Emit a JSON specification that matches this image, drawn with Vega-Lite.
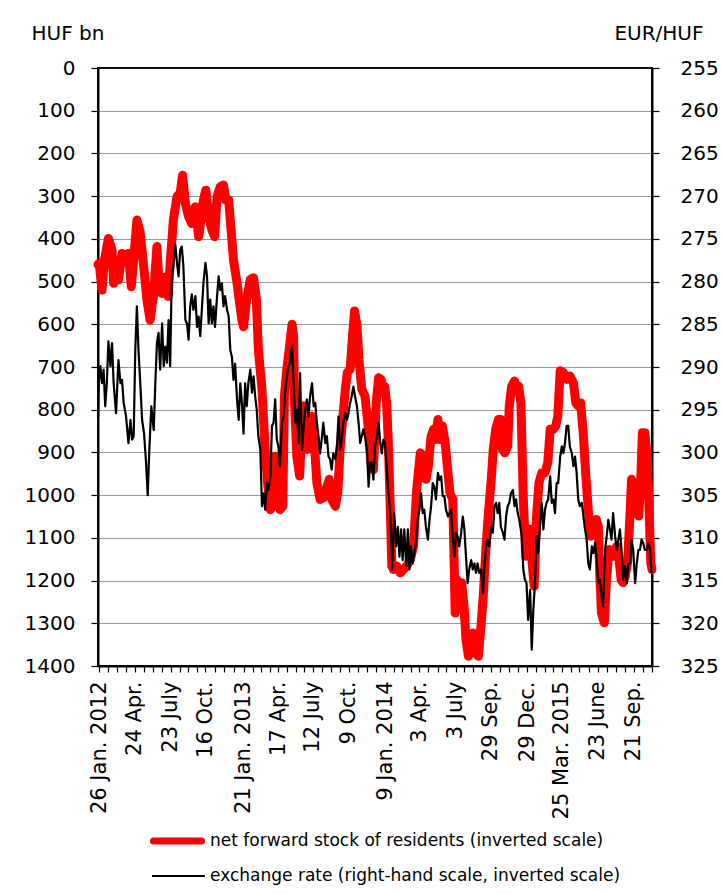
{
"$schema": "https://vega.github.io/schema/vega-lite/v6.json",
"width": 554, "height": 598,
"autosize": {"type": "none"},
"padding": {"left": 98, "top": 68, "right": 69, "bottom": 228},
"background": "white",
"datasets": {
"fwd": [
{"d":"2012-01-23","v":460},{"d":"2012-01-26","v":457},{"d":"2012-02-02","v":520},{"d":"2012-02-08","v":450},{"d":"2012-02-18","v":399},{"d":"2012-02-27","v":426},{"d":"2012-03-02","v":504},{"d":"2012-03-08","v":450},{"d":"2012-03-14","v":496},{"d":"2012-03-23","v":434},{"d":"2012-03-31","v":441},{"d":"2012-04-08","v":434},{"d":"2012-04-15","v":512},{"d":"2012-04-21","v":450},{"d":"2012-04-29","v":356},{"d":"2012-05-07","v":383},{"d":"2012-05-16","v":465},{"d":"2012-05-24","v":543},{"d":"2012-06-01","v":590},{"d":"2012-06-10","v":528},{"d":"2012-06-18","v":418},{"d":"2012-06-24","v":520},{"d":"2012-07-01","v":528},{"d":"2012-07-09","v":489},{"d":"2012-07-16","v":535},{"d":"2012-07-21","v":457},{"d":"2012-07-29","v":356},{"d":"2012-08-07","v":301},{"d":"2012-08-15","v":293},{"d":"2012-08-21","v":251},{"d":"2012-08-28","v":317},{"d":"2012-09-05","v":348},{"d":"2012-09-13","v":364},{"d":"2012-09-22","v":325},{"d":"2012-09-30","v":395},{"d":"2012-10-07","v":348},{"d":"2012-10-12","v":309},{"d":"2012-10-18","v":286},{"d":"2012-10-25","v":348},{"d":"2012-11-02","v":379},{"d":"2012-11-09","v":395},{"d":"2012-11-15","v":301},{"d":"2012-11-23","v":278},{"d":"2012-12-01","v":274},{"d":"2012-12-07","v":309},{"d":"2012-12-14","v":309},{"d":"2012-12-20","v":379},{"d":"2012-12-26","v":450},
{"d":"2013-01-04","v":504},{"d":"2013-01-08","v":535},{"d":"2013-01-16","v":590},{"d":"2013-01-20","v":606},{"d":"2013-01-28","v":541},{"d":"2013-02-06","v":495},{"d":"2013-02-14","v":491},{"d":"2013-02-21","v":541},{"d":"2013-02-26","v":659},{"d":"2013-03-07","v":752},{"d":"2013-03-15","v":893},{"d":"2013-03-21","v":971},{"d":"2013-03-28","v":1034},{"d":"2013-04-03","v":1026},{"d":"2013-04-09","v":909},{"d":"2013-04-15","v":971},{"d":"2013-04-21","v":1034},{"d":"2013-04-28","v":1026},{"d":"2013-05-02","v":768},{"d":"2013-05-08","v":705},{"d":"2013-05-15","v":651},{"d":"2013-05-21","v":600},{"d":"2013-05-25","v":627},{"d":"2013-05-27","v":776},{"d":"2013-06-02","v":909},{"d":"2013-06-09","v":955},{"d":"2013-06-15","v":830},{"d":"2013-06-20","v":791},{"d":"2013-06-27","v":893},{"d":"2013-07-04","v":854},{"d":"2013-07-10","v":815},{"d":"2013-07-15","v":870},{"d":"2013-07-22","v":971},{"d":"2013-07-30","v":1010},{"d":"2013-08-07","v":1006},{"d":"2013-08-14","v":987},{"d":"2013-08-22","v":963},{"d":"2013-08-28","v":1010},{"d":"2013-09-06","v":1026},{"d":"2013-09-12","v":995},{"d":"2013-09-18","v":893},{"d":"2013-09-25","v":815},{"d":"2013-10-01","v":752},{"d":"2013-10-06","v":713},{"d":"2013-10-13","v":705},{"d":"2013-10-19","v":627},{"d":"2013-10-24","v":569},{"d":"2013-10-30","v":604},{"d":"2013-11-04","v":682},{"d":"2013-11-11","v":752},{"d":"2013-11-19","v":768},{"d":"2013-11-26","v":830},{"d":"2013-12-04","v":924},{"d":"2013-12-10","v":940},{"d":"2013-12-17","v":784},{"d":"2013-12-23","v":725},{"d":"2013-12-29","v":729},
{"d":"2014-01-03","v":752},{"d":"2014-01-07","v":745},{"d":"2014-01-12","v":784},{"d":"2014-01-16","v":870},{"d":"2014-01-21","v":1026},{"d":"2014-01-25","v":1166},{"d":"2014-01-29","v":1174},{"d":"2014-02-06","v":1166},{"d":"2014-02-15","v":1182},{"d":"2014-02-23","v":1174},{"d":"2014-03-03","v":1166},{"d":"2014-03-12","v":1151},{"d":"2014-03-20","v":1120},{"d":"2014-03-28","v":987},{"d":"2014-04-06","v":901},{"d":"2014-04-14","v":909},{"d":"2014-04-20","v":963},{"d":"2014-04-26","v":932},{"d":"2014-05-03","v":862},{"d":"2014-05-09","v":846},{"d":"2014-05-13","v":870},{"d":"2014-05-20","v":823},{"d":"2014-05-25","v":870},{"d":"2014-05-31","v":838},{"d":"2014-06-07","v":877},{"d":"2014-06-14","v":948},{"d":"2014-06-19","v":995},{"d":"2014-06-26","v":1010},{"d":"2014-06-30","v":1182},{"d":"2014-07-02","v":1276},{"d":"2014-07-06","v":1198},{"d":"2014-07-12","v":1245},{"d":"2014-07-18","v":1205},{"d":"2014-07-24","v":1260},{"d":"2014-07-29","v":1338},{"d":"2014-08-04","v":1377},{"d":"2014-08-11","v":1338},{"d":"2014-08-16","v":1323},{"d":"2014-08-22","v":1370},{"d":"2014-08-29","v":1377},{"d":"2014-09-05","v":1299},{"d":"2014-09-10","v":1237},{"d":"2014-09-17","v":1120},{"d":"2014-09-23","v":1041},{"d":"2014-09-30","v":963},{"d":"2014-10-05","v":893},{"d":"2014-10-11","v":846},{"d":"2014-10-18","v":823},{"d":"2014-10-23","v":823},{"d":"2014-10-28","v":893},{"d":"2014-11-03","v":901},{"d":"2014-11-10","v":885},{"d":"2014-11-14","v":791},{"d":"2014-11-20","v":745},{"d":"2014-11-27","v":733},{"d":"2014-12-03","v":752},{"d":"2014-12-07","v":745},{"d":"2014-12-13","v":784},{"d":"2014-12-19","v":1010},{"d":"2014-12-25","v":1143},{"d":"2014-12-30","v":1080},
{"d":"2015-01-05","v":1080},{"d":"2015-01-10","v":1159},{"d":"2015-01-15","v":1213},{"d":"2015-01-21","v":1049},{"d":"2015-01-27","v":971},{"d":"2015-02-03","v":948},{"d":"2015-02-11","v":948},{"d":"2015-02-18","v":924},{"d":"2015-02-24","v":846},{"d":"2015-03-04","v":846},{"d":"2015-03-10","v":838},{"d":"2015-03-15","v":815},{"d":"2015-03-21","v":709},{"d":"2015-03-29","v":713},{"d":"2015-04-06","v":729},{"d":"2015-04-14","v":721},{"d":"2015-04-23","v":737},{"d":"2015-04-29","v":784},{"d":"2015-05-05","v":791},{"d":"2015-05-11","v":784},{"d":"2015-05-18","v":862},{"d":"2015-05-24","v":955},{"d":"2015-05-30","v":1034},{"d":"2015-06-06","v":1096},{"d":"2015-06-13","v":1080},{"d":"2015-06-19","v":1057},{"d":"2015-06-24","v":1073},{"d":"2015-06-28","v":1190},{"d":"2015-07-02","v":1276},{"d":"2015-07-09","v":1299},{"d":"2015-07-14","v":1205},{"d":"2015-07-21","v":1127},{"d":"2015-07-27","v":1143},{"d":"2015-08-03","v":1143},{"d":"2015-08-09","v":1120},{"d":"2015-08-15","v":1151},{"d":"2015-08-20","v":1198},{"d":"2015-08-25","v":1205},{"d":"2015-08-30","v":1190},{"d":"2015-09-05","v":1159},{"d":"2015-09-11","v":1049},{"d":"2015-09-15","v":963},{"d":"2015-09-22","v":987},{"d":"2015-09-28","v":1026},{"d":"2015-10-03","v":1049},{"d":"2015-10-08","v":963},{"d":"2015-10-12","v":854},{"d":"2015-10-18","v":854},{"d":"2015-10-24","v":909},{"d":"2015-10-28","v":1010},{"d":"2015-11-02","v":1159},{"d":"2015-11-05","v":1174}
],
"fx": [
{"d":"2012-01-23","r":296},{"d":"2012-01-25","r":291.9},{"d":"2012-01-29","r":289.9},{"d":"2012-02-02","r":291.9},{"d":"2012-02-06","r":290.3},{"d":"2012-02-10","r":294.6},{"d":"2012-02-14","r":291.9},{"d":"2012-02-18","r":287},{"d":"2012-02-23","r":289.9},{"d":"2012-02-27","r":287.2},{"d":"2012-03-02","r":291.9},{"d":"2012-03-08","r":295.4},{"d":"2012-03-14","r":289.2},{"d":"2012-03-19","r":291.9},{"d":"2012-03-23","r":291.5},{"d":"2012-03-27","r":294.2},{"d":"2012-04-02","r":295.8},{"d":"2012-04-08","r":298.9},{"d":"2012-04-13","r":296.2},{"d":"2012-04-17","r":298.5},{"d":"2012-04-21","r":298.1},{"d":"2012-04-25","r":288},{"d":"2012-04-29","r":282.9},{"d":"2012-05-03","r":288},{"d":"2012-05-07","r":291.5},{"d":"2012-05-12","r":296.2},{"d":"2012-05-17","r":297.8},{"d":"2012-05-22","r":301.3},{"d":"2012-05-26","r":305},{"d":"2012-05-30","r":299.7},{"d":"2012-06-04","r":294.6},{"d":"2012-06-10","r":297.4},{"d":"2012-06-14","r":291.9},{"d":"2012-06-18","r":287.2},{"d":"2012-06-22","r":286},{"d":"2012-06-26","r":290.3},{"d":"2012-07-01","r":284.9},{"d":"2012-07-05","r":289.9},{"d":"2012-07-09","r":287.6},{"d":"2012-07-13","r":289.5},{"d":"2012-07-17","r":284.5},{"d":"2012-07-21","r":289.9},{"d":"2012-07-25","r":279.4},{"d":"2012-07-29","r":278.2},{"d":"2012-08-03","r":275.7},{"d":"2012-08-07","r":277.8},{"d":"2012-08-11","r":279.4},{"d":"2012-08-15","r":276.3},{"d":"2012-08-19","r":275.9},{"d":"2012-08-23","r":278.2},{"d":"2012-08-28","r":284.5},{"d":"2012-09-01","r":284.9},{"d":"2012-09-05","r":286.8},{"d":"2012-09-09","r":282.9},{"d":"2012-09-13","r":281.5},{"d":"2012-09-17","r":283.3},{"d":"2012-09-22","r":281.7},{"d":"2012-09-26","r":285.3},{"d":"2012-09-30","r":284.1},{"d":"2012-10-04","r":286.4},{"d":"2012-10-08","r":283.3},{"d":"2012-10-12","r":280.2},{"d":"2012-10-17","r":277.8},{"d":"2012-10-21","r":279.4},{"d":"2012-10-25","r":284.9},{"d":"2012-10-29","r":282.1},{"d":"2012-11-02","r":284.9},{"d":"2012-11-06","r":282.9},{"d":"2012-11-10","r":285.3},{"d":"2012-11-15","r":281.7},{"d":"2012-11-19","r":279.4},{"d":"2012-11-23","r":281},{"d":"2012-11-27","r":280.2},{"d":"2012-12-01","r":282.9},{"d":"2012-12-05","r":281.7},{"d":"2012-12-10","r":283.3},{"d":"2012-12-14","r":284.1},{"d":"2012-12-18","r":288},{"d":"2012-12-22","r":288.8},{"d":"2012-12-26","r":291.5},{"d":"2012-12-30","r":289.6},
{"d":"2013-01-04","r":293.9},{"d":"2013-01-08","r":296.2},{"d":"2013-01-12","r":291.9},{"d":"2013-01-16","r":294.2},{"d":"2013-01-20","r":297.8},{"d":"2013-01-24","r":291.9},{"d":"2013-01-28","r":294.6},{"d":"2013-02-01","r":291.9},{"d":"2013-02-06","r":290.3},{"d":"2013-02-10","r":293},{"d":"2013-02-14","r":291.1},{"d":"2013-02-18","r":293.4},{"d":"2013-02-22","r":295},{"d":"2013-02-26","r":298.1},{"d":"2013-03-03","r":299.7},{"d":"2013-03-07","r":306.3},{"d":"2013-03-11","r":304.8},{"d":"2013-03-15","r":306.7},{"d":"2013-03-19","r":303.6},{"d":"2013-03-23","r":304.4},{"d":"2013-03-28","r":302.8},{"d":"2013-04-01","r":296.9},{"d":"2013-04-05","r":296.5},{"d":"2013-04-09","r":293.8},{"d":"2013-04-13","r":298.5},{"d":"2013-04-17","r":299.3},{"d":"2013-04-21","r":301.6},{"d":"2013-04-26","r":296.5},{"d":"2013-04-30","r":295.8},{"d":"2013-05-04","r":293},{"d":"2013-05-08","r":291.1},{"d":"2013-05-12","r":289.9},{"d":"2013-05-16","r":289.5},{"d":"2013-05-21","r":287.6},{"d":"2013-05-25","r":291.9},{"d":"2013-05-29","r":296.5},{"d":"2013-06-02","r":295},{"d":"2013-06-06","r":298.9},{"d":"2013-06-10","r":290.7},{"d":"2013-06-15","r":299.7},{"d":"2013-06-19","r":296.9},{"d":"2013-06-23","r":295},{"d":"2013-06-27","r":293.8},{"d":"2013-07-01","r":295.8},{"d":"2013-07-05","r":293.4},{"d":"2013-07-10","r":291.9},{"d":"2013-07-14","r":294.6},{"d":"2013-07-18","r":294.2},{"d":"2013-07-22","r":296.5},{"d":"2013-07-26","r":298.1},{"d":"2013-07-30","r":300.1},{"d":"2013-08-03","r":298.5},{"d":"2013-08-07","r":296.5},{"d":"2013-08-12","r":298.9},{"d":"2013-08-16","r":298.1},{"d":"2013-08-20","r":300.5},{"d":"2013-08-24","r":300.8},{"d":"2013-08-28","r":302},{"d":"2013-09-01","r":300.1},{"d":"2013-09-06","r":300.8},{"d":"2013-09-10","r":299.3},{"d":"2013-09-14","r":295.8},{"d":"2013-09-18","r":299.7},{"d":"2013-09-22","r":298.5},{"d":"2013-09-26","r":296.5},{"d":"2013-10-01","r":295.4},{"d":"2013-10-05","r":296.2},{"d":"2013-10-09","r":295.4},{"d":"2013-10-13","r":294.2},{"d":"2013-10-17","r":293.4},{"d":"2013-10-21","r":292.3},{"d":"2013-10-25","r":293.4},{"d":"2013-10-30","r":294.6},{"d":"2013-11-03","r":296.5},{"d":"2013-11-07","r":298.9},{"d":"2013-11-11","r":298.1},{"d":"2013-11-15","r":297.3},{"d":"2013-11-19","r":298.1},{"d":"2013-11-24","r":299.7},{"d":"2013-11-28","r":304},{"d":"2013-12-02","r":301.2},{"d":"2013-12-06","r":301.2},{"d":"2013-12-10","r":303.2},{"d":"2013-12-14","r":299.3},{"d":"2013-12-19","r":298.1},{"d":"2013-12-23","r":296.5},{"d":"2013-12-27","r":298.9},{"d":"2013-12-31","r":300.1},
{"d":"2014-01-04","r":298.5},{"d":"2014-01-08","r":298.9},{"d":"2014-01-12","r":301.6},{"d":"2014-01-16","r":304.4},{"d":"2014-01-21","r":307.1},{"d":"2014-01-26","r":313.7},{"d":"2014-01-31","r":307.1},{"d":"2014-02-05","r":311},{"d":"2014-02-09","r":308.7},{"d":"2014-02-13","r":312.2},{"d":"2014-02-17","r":309},{"d":"2014-02-21","r":312.6},{"d":"2014-02-25","r":309},{"d":"2014-03-02","r":313.3},{"d":"2014-03-06","r":309},{"d":"2014-03-10","r":313.7},{"d":"2014-03-14","r":311},{"d":"2014-03-18","r":313},{"d":"2014-03-22","r":311.8},{"d":"2014-03-27","r":310.2},{"d":"2014-03-31","r":307.5},{"d":"2014-04-04","r":306.7},{"d":"2014-04-08","r":304.8},{"d":"2014-04-12","r":307.1},{"d":"2014-04-16","r":306.7},{"d":"2014-04-20","r":308.7},{"d":"2014-04-25","r":310.2},{"d":"2014-04-29","r":307.9},{"d":"2014-05-03","r":306.3},{"d":"2014-05-07","r":303.6},{"d":"2014-05-11","r":304},{"d":"2014-05-15","r":305.5},{"d":"2014-05-20","r":302.4},{"d":"2014-05-24","r":303.2},{"d":"2014-05-28","r":302.8},{"d":"2014-06-01","r":305.1},{"d":"2014-06-05","r":305.1},{"d":"2014-06-09","r":306.7},{"d":"2014-06-14","r":307.5},{"d":"2014-06-18","r":307.1},{"d":"2014-06-22","r":306.7},{"d":"2014-06-26","r":310.2},{"d":"2014-06-30","r":312.2},{"d":"2014-07-04","r":309.4},{"d":"2014-07-08","r":309.8},{"d":"2014-07-12","r":311},{"d":"2014-07-17","r":309.4},{"d":"2014-07-21","r":307.5},{"d":"2014-07-25","r":309},{"d":"2014-07-29","r":312.2},{"d":"2014-08-02","r":315.3},{"d":"2014-08-06","r":313.7},{"d":"2014-08-11","r":312.6},{"d":"2014-08-15","r":313.7},{"d":"2014-08-19","r":313},{"d":"2014-08-23","r":314.1},{"d":"2014-08-27","r":313},{"d":"2014-08-31","r":314.1},{"d":"2014-09-05","r":313.7},{"d":"2014-09-09","r":316.5},{"d":"2014-09-13","r":313.3},{"d":"2014-09-17","r":311},{"d":"2014-09-21","r":310.2},{"d":"2014-09-25","r":311},{"d":"2014-09-30","r":308.7},{"d":"2014-10-04","r":309.4},{"d":"2014-10-08","r":306.3},{"d":"2014-10-12","r":305.9},{"d":"2014-10-16","r":307.1},{"d":"2014-10-20","r":305.9},{"d":"2014-10-24","r":308.7},{"d":"2014-10-29","r":309.4},{"d":"2014-11-02","r":310.2},{"d":"2014-11-06","r":307.5},{"d":"2014-11-10","r":306.3},{"d":"2014-11-14","r":305.9},{"d":"2014-11-18","r":304.8},{"d":"2014-11-23","r":304.4},{"d":"2014-11-27","r":306.3},{"d":"2014-12-01","r":305.5},{"d":"2014-12-05","r":307.1},{"d":"2014-12-09","r":307.9},{"d":"2014-12-15","r":309.8},{"d":"2014-12-19","r":313.7},{"d":"2014-12-23","r":314.9},{"d":"2014-12-27","r":315.3},{"d":"2014-12-31","r":319.6},
{"d":"2015-01-05","r":316.1},{"d":"2015-01-09","r":323.1},{"d":"2015-01-13","r":318.4},{"d":"2015-01-17","r":315.3},{"d":"2015-01-21","r":309.8},{"d":"2015-01-25","r":311.8},{"d":"2015-01-30","r":308.3},{"d":"2015-02-03","r":305.9},{"d":"2015-02-07","r":309},{"d":"2015-02-11","r":306.7},{"d":"2015-02-15","r":305.9},{"d":"2015-02-19","r":305.5},{"d":"2015-02-24","r":302.8},{"d":"2015-02-28","r":305.9},{"d":"2015-03-04","r":305.5},{"d":"2015-03-08","r":307.1},{"d":"2015-03-12","r":303.6},{"d":"2015-03-16","r":303.6},{"d":"2015-03-21","r":300.5},{"d":"2015-03-25","r":299.3},{"d":"2015-03-29","r":300.1},{"d":"2015-04-02","r":298.9},{"d":"2015-04-06","r":296.9},{"d":"2015-04-10","r":296.9},{"d":"2015-04-14","r":299.3},{"d":"2015-04-19","r":300.1},{"d":"2015-04-23","r":301.6},{"d":"2015-04-27","r":300.5},{"d":"2015-05-01","r":302.4},{"d":"2015-05-05","r":305.5},{"d":"2015-05-09","r":306.3},{"d":"2015-05-14","r":305.9},{"d":"2015-05-18","r":307.5},{"d":"2015-05-22","r":309},{"d":"2015-05-26","r":310.2},{"d":"2015-05-30","r":313},{"d":"2015-06-03","r":313.7},{"d":"2015-06-08","r":311},{"d":"2015-06-12","r":311.8},{"d":"2015-06-16","r":310.6},{"d":"2015-06-20","r":312.6},{"d":"2015-06-24","r":315.3},{"d":"2015-06-28","r":314.9},{"d":"2015-07-02","r":316.9},{"d":"2015-07-06","r":318},{"d":"2015-07-11","r":311.4},{"d":"2015-07-15","r":309.8},{"d":"2015-07-19","r":307.9},{"d":"2015-07-23","r":309},{"d":"2015-07-27","r":310.2},{"d":"2015-07-31","r":307.1},{"d":"2015-08-05","r":309.8},{"d":"2015-08-09","r":311.4},{"d":"2015-08-13","r":310.2},{"d":"2015-08-17","r":309},{"d":"2015-08-21","r":311.4},{"d":"2015-08-25","r":314.9},{"d":"2015-08-30","r":313.3},{"d":"2015-09-03","r":315.3},{"d":"2015-09-07","r":313},{"d":"2015-09-11","r":313},{"d":"2015-09-15","r":310.2},{"d":"2015-09-19","r":311.4},{"d":"2015-09-24","r":315.3},{"d":"2015-09-28","r":313},{"d":"2015-10-02","r":311.4},{"d":"2015-10-06","r":311.4},{"d":"2015-10-10","r":310.2},{"d":"2015-10-14","r":310.6},{"d":"2015-10-18","r":311.4},{"d":"2015-10-23","r":311.4},{"d":"2015-10-27","r":310.6},{"d":"2015-10-31","r":311.4},{"d":"2015-11-04","r":314.1}
]
},
"config": {
  "font": "DejaVu Sans",
  "view": {"stroke": "black", "strokeWidth": 2},
  "axis": {"labelFont": "DejaVu Sans", "labelFontSize": 20, "labelColor": "black", "titleFont": "DejaVu Sans", "titleFontSize": 20, "titleFontWeight": "normal", "titleColor": "black", "domainColor": "black", "domainWidth": 2, "tickColor": "black", "tickWidth": 1.2, "tickSize": 7},
  "axisX": {"labelOverlap": false, "labelFontSize": 21},
  "legend": {"labelFont": "DejaVu Sans", "labelFontSize": 17, "labelColor": "black", "labelLimit": 800}
},
"layer": [
  {
    "data": {"name": "fwd"},
    "mark": {"type": "line", "strokeWidth": 9, "strokeJoin": "round", "strokeCap": "round"},
    "encoding": {
      "x": {"field": "d", "type": "temporal",
        "scale": {"type": "utc", "domain": [{"year": 2012, "month": 1, "date": 23, "utc": true}, {"year": 2015, "month": 11, "date": 5, "utc": true}]},
        "axis": {"title": null, "grid": false, "tickSize": 6, "tickCount": 200, "labelAngle": -90, "labelAlign": "right", "labelBaseline": "middle", "labelPadding": 9, "labelOverlap": false, "labelFlush": false, "labelBound": false,
          "values": [
            {"year":2012,"month":1,"date":26,"utc":true},{"year":2012,"month":2,"date":17,"utc":true},{"year":2012,"month":3,"date":10,"utc":true},{"year":2012,"month":4,"date":2,"utc":true},{"year":2012,"month":4,"date":24,"utc":true},{"year":2012,"month":5,"date":16,"utc":true},{"year":2012,"month":6,"date":7,"utc":true},{"year":2012,"month":7,"date":1,"utc":true},{"year":2012,"month":7,"date":23,"utc":true},{"year":2012,"month":8,"date":14,"utc":true},{"year":2012,"month":9,"date":4,"utc":true},{"year":2012,"month":9,"date":25,"utc":true},{"year":2012,"month":10,"date":16,"utc":true},{"year":2012,"month":11,"date":9,"utc":true},{"year":2012,"month":12,"date":3,"utc":true},{"year":2012,"month":12,"date":27,"utc":true},
            {"year":2013,"month":1,"date":21,"utc":true},{"year":2013,"month":2,"date":12,"utc":true},{"year":2013,"month":3,"date":5,"utc":true},{"year":2013,"month":3,"date":27,"utc":true},{"year":2013,"month":4,"date":17,"utc":true},{"year":2013,"month":5,"date":8,"utc":true},{"year":2013,"month":5,"date":30,"utc":true},{"year":2013,"month":6,"date":20,"utc":true},{"year":2013,"month":7,"date":12,"utc":true},{"year":2013,"month":8,"date":3,"utc":true},{"year":2013,"month":8,"date":25,"utc":true},{"year":2013,"month":9,"date":17,"utc":true},{"year":2013,"month":10,"date":9,"utc":true},{"year":2013,"month":11,"date":1,"utc":true},{"year":2013,"month":11,"date":24,"utc":true},{"year":2013,"month":12,"date":17,"utc":true},
            {"year":2014,"month":1,"date":9,"utc":true},{"year":2014,"month":1,"date":30,"utc":true},{"year":2014,"month":2,"date":20,"utc":true},{"year":2014,"month":3,"date":13,"utc":true},{"year":2014,"month":4,"date":3,"utc":true},{"year":2014,"month":4,"date":26,"utc":true},{"year":2014,"month":5,"date":19,"utc":true},{"year":2014,"month":6,"date":10,"utc":true},{"year":2014,"month":7,"date":3,"utc":true},{"year":2014,"month":7,"date":25,"utc":true},{"year":2014,"month":8,"date":16,"utc":true},{"year":2014,"month":9,"date":7,"utc":true},{"year":2014,"month":9,"date":29,"utc":true},{"year":2014,"month":10,"date":22,"utc":true},{"year":2014,"month":11,"date":14,"utc":true},{"year":2014,"month":12,"date":6,"utc":true},{"year":2014,"month":12,"date":29,"utc":true},
            {"year":2015,"month":1,"date":19,"utc":true},{"year":2015,"month":2,"date":10,"utc":true},{"year":2015,"month":3,"date":3,"utc":true},{"year":2015,"month":3,"date":25,"utc":true},{"year":2015,"month":4,"date":16,"utc":true},{"year":2015,"month":5,"date":8,"utc":true},{"year":2015,"month":5,"date":31,"utc":true},{"year":2015,"month":6,"date":23,"utc":true},{"year":2015,"month":7,"date":15,"utc":true},{"year":2015,"month":8,"date":6,"utc":true},{"year":2015,"month":8,"date":29,"utc":true},{"year":2015,"month":9,"date":21,"utc":true},{"year":2015,"month":10,"date":13,"utc":true},{"year":2015,"month":11,"date":4,"utc":true}
          ],
          "labelExpr": "({'2012-01-26':'26 Jan. 2012','2012-04-24':'24 Apr.','2012-07-23':'23 July','2012-10-16':'16 Oct.','2013-01-21':'21 Jan. 2013','2013-04-17':'17 Apr.','2013-07-12':'12 July','2013-10-09':'9 Oct.','2014-01-09':'9 Jan. 2014','2014-04-03':'3 Apr.','2014-07-03':'3 July','2014-09-29':'29 Sep.','2014-12-29':'29 Dec.','2015-03-25':'25 Mar. 2015','2015-06-23':'23 June','2015-09-21':'21 Sep.'})[utcFormat(datum.value,'%Y-%m-%d')] || ''"
        }
      },
      "y": {"field": "v", "type": "quantitative",
        "scale": {"domain": [0, 1400], "reverse": true, "nice": false, "zero": false},
        "axis": {"orient": "left", "format": "d", "values": [0,100,200,300,400,500,600,700,800,900,1000,1100,1200,1300,1400], "grid": true, "gridColor": "#333333", "gridDash": [1, 1], "gridWidth": 1, "labelPadding": 16, "title": "HUF bn", "titleAngle": 0, "titleAlign": "left", "titleBaseline": "middle", "titleX": -67, "titleY": -35}
      },
      "color": {"datum": "net forward stock of residents (inverted scale)", "type": "nominal",
        "scale": {"domain": ["net forward stock of residents (inverted scale)"], "range": ["#ff0000"]},
        "legend": {"title": null, "orient": "none", "legendX": 52, "legendY": 745.5, "symbolType": "stroke", "symbolSize": 2304, "symbolStrokeWidth": 7, "labelOffset": 5,
          "encode": {"symbols": {"update": {"strokeCap": {"value": "round"}}}}}
      }
    }
  },
  {
    "data": {"name": "fx"},
    "mark": {"type": "line", "strokeWidth": 2.2, "strokeJoin": "round"},
    "encoding": {
      "x": {"field": "d", "type": "temporal"},
      "y": {"field": "r", "type": "quantitative",
        "scale": {"domain": [255, 325], "reverse": true, "nice": false, "zero": false},
        "axis": {"orient": "right", "values": [255,260,265,270,275,280,285,290,295,300,305,310,315,320,325], "grid": false, "labelPadding": 21, "title": "EUR/HUF", "titleAngle": 0, "titleAlign": "right", "titleBaseline": "middle", "titleX": 51, "titleY": -35}
      },
      "color": {"datum": "exchange rate (right-hand scale, inverted scale)", "type": "nominal",
        "scale": {"domain": ["exchange rate (right-hand scale, inverted scale)"], "range": ["#000000"]},
        "legend": {"title": null, "orient": "none", "legendX": 52.5, "legendY": 780, "symbolType": "stroke", "symbolSize": 2809, "symbolStrokeWidth": 2.2, "labelOffset": 3.5}
      }
    }
  }
],
"resolve": {"scale": {"y": "independent", "color": "independent"}, "axis": {"y": "independent"}, "legend": {"color": "independent"}}
}
